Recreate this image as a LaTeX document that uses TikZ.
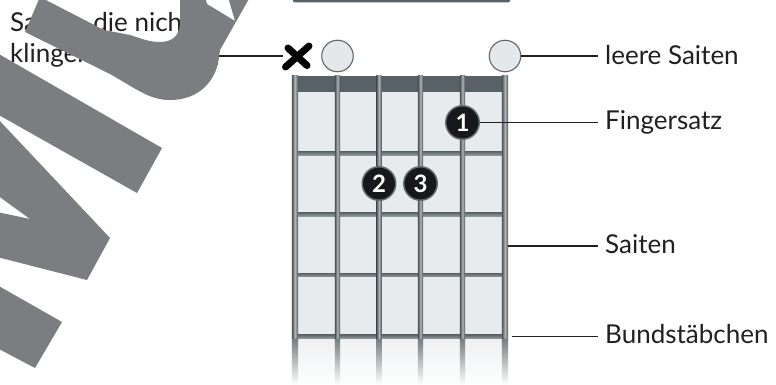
\documentclass[tikz,border=0pt]{standalone}
\usepackage{fontspec}
\setmainfont{Lato}
\definecolor{txt}{HTML}{231F20}
\definecolor{wm}{RGB}{124,125,129}
\definecolor{board}{HTML}{E8EBED}
\definecolor{nutc}{HTML}{586166}
\definecolor{strdark}{HTML}{4A5256}
\definecolor{strlight}{HTML}{AEB3B6}
\definecolor{fretc}{HTML}{5B6468}
\definecolor{dotfill}{HTML}{16181B}
\definecolor{ring}{HTML}{646C71}
\definecolor{openfill}{HTML}{E4E8EB}
\definecolor{ringo}{HTML}{5F676C}
\begin{document}
\begin{tikzpicture}[x=1pt,y=-1pt,
  lbl/.style={font=\fontsize{26}{30}\selectfont, text=txt, inner xsep=7pt, inner ysep=0pt, anchor=base west},
  conn/.style={draw=txt, line width=1.3pt},
  fdot/.style={circle, fill=dotfill, draw=ring, line width=1.5pt, minimum size=33.5pt, inner sep=0pt, text=white, font=\fontsize{24}{24}\selectfont\bfseries},
  openc/.style={circle, fill=openfill, draw=ringo, line width=1.1pt, minimum size=31.5pt, inner sep=0pt},
  wmark/.style={fill=wm},
  xstroke/.style={draw=black, line width=7pt, line cap=round}
]
\useasboundingbox (0,0) rectangle (776,385);
\fill[white] (0,0) rectangle (776,385);

% header bar (cut at top)
\fill[nutc, rounded corners=2pt] (293,-8) rectangle (510,2.5);

% fretboard
\fill[board] (295,92) rectangle (505,339);
\shade[top color=board!75!white, bottom color=white] (293,339) rectangle (507,385);
\fill[nutc] (292,76) rectangle (508,92);
\foreach \fy in {153.3,214.3,275,336.5}{
  \shade[top color=fretc, bottom color=fretc!65!white] (297,\fy-1.9) rectangle (503,\fy+1.9);
}
\foreach \sx/\w in {295/3.2,337.5/2.6,379/2.6,420.5/2.6,462.5/2.6,505/3.2}{
  \shade[left color=strdark, right color=strdark, middle color=strlight] (\sx-\w,76) rectangle (\sx+\w,339);
  \shade[top color=strdark!55!strlight, bottom color=white] (\sx-\w,339) rectangle (\sx+\w,385);
}

% markers above the nut
\node[minimum size=27pt, inner sep=0pt] (xm) at (297,56) {};
\draw[xstroke] ([shift={(12,-10)}]xm.center) -- ([shift={(-11.5,11)}]xm.center);
\draw[xstroke] ([shift={(-9,-8)}]xm.center) -- ([shift={(10,9.5)}]xm.center);
\node[openc] (o2) at (337.5,56) {};
\node[openc] (o6) at (505,56) {};

% finger dots
\node[fdot] (f1) at (462.5,122.5) {1};
\node[fdot] (f2) at (379,183.5) {2};
\node[fdot] (f3) at (420.5,183.5) {3};

% labels
\node[lbl] (lOpen) at (598,64.3) {leere Saiten};
\node[lbl] (lFing) at (598,130) {Fingersatz};
\node[lbl] (lStr) at (598,253.3) {Saiten};
\node[lbl] (lFret) at (598,343.3) {Bundstäbchen};
\node[font=\fontsize{26}{31.6}\selectfont, text=txt, align=left, anchor=north west, inner sep=0pt] (lNot) at (10,12) {Saiten, die nicht\\klingen};

\coordinate (sPt) at (508,246);
\coordinate (fPt) at (511.5,336.7);

\draw[conn] (o6.east) -- (o6.east -| lOpen.west);
\draw[conn] (f1.east) -- (f1.east -| lFing.west);
\draw[conn] (sPt) -- (sPt -| lStr.west);
\draw[conn] (fPt) -- (fPt -| lFret.west);
\draw[conn] (xm.west -| lNot.east) -- (xm.west);

% watermark shapes
\begin{scope}
\clip (0,0) rectangle (776,385);
\fill[wmark] (40,-3) -- (25,32) -- (110,74) .. controls (138,90) and (150,100) .. (170,100)
  .. controls (195,100) and (212,86) .. (218,64) -- (220,50) -- (250,-3) -- (228,-3) -- (235,21)
  -- (207,4) -- (205,-3) -- (180,-3) -- (180,22) .. controls (180,36) and (172,42) .. (160,42)
  .. controls (148,42) and (140,38) .. (130,35) -- (104,30) -- cycle;
\fill[wmark] (-3,53) -- (162,148) -- (137,193) -- (-3,114) -- cycle;
\fill[wmark] (-3,118) -- (110,238) -- (87,280) -- (-3,257) -- (-3,212) -- (30,219) -- (-3,195) -- cycle;
\fill[wmark] (-3,285) -- (62,322) -- (35,368) -- (-3,348) -- cycle;
\end{scope}
\end{tikzpicture}
\end{document}
